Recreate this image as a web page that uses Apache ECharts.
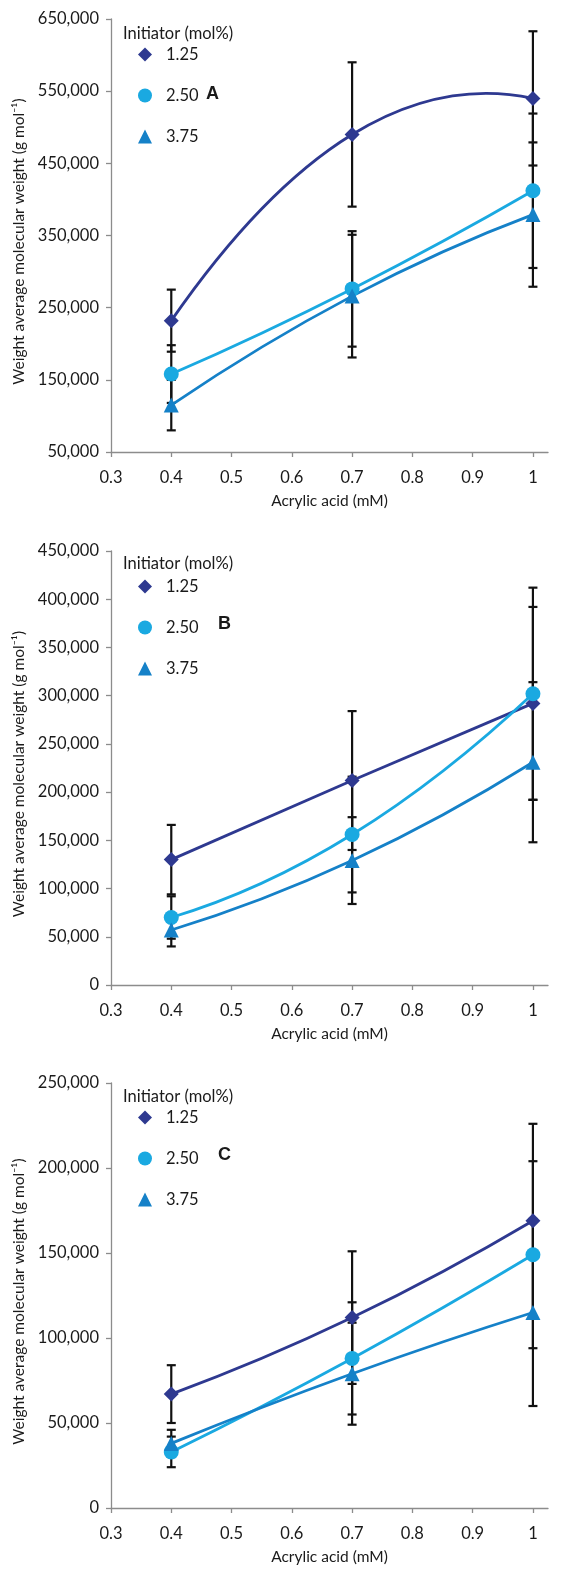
<!DOCTYPE html>
<html>
<head>
<meta charset="utf-8">
<script src="https://cdn.jsdelivr.net/npm/echarts@6/dist/echarts.min.js"></script>
<style>
html,body{margin:0;padding:0;background:#fff;}
#chart{width:563px;height:1573px;}
</style>
</head>
<body>
<div id="chart"></div>
<script>
// ---- data ----
const acrylic = [0.4, 0.7, 1.0];
const seriesNames = ['1.25', '2.50', '3.75'];
const panelLetters = ['A', 'B', 'C'];

const A_125 = [232000, 490000, 540000];
const A_250 = [158000, 276000, 412000];
const A_375 = [115000, 266000, 379000];
const A_err125 = [43000, 100000, 93000];
const A_err250 = [40000, 80000, 107000];
const A_err375 = [35000, 85000, 100000];

const B_125 = [130000, 212000, 292000];
const B_250 = [70000, 156000, 302000];
const B_375 = [57000, 129000, 231000];
const B_err125 = [36000, 72000, 100000];
const B_err250 = [22000, 60000, 110000];
const B_err375 = [17000, 45000, 83000];

const C_125 = [67000, 112000, 169000];
const C_250 = [33000, 88000, 149000];
const C_375 = [38000, 79000, 115000];
const C_err125 = [17000, 39000, 57000];
const C_err250 = [9000, 33000, 55000];
const C_err375 = [8000, 30000, 55000];

const xTicks = [0.3, 0.4, 0.5, 0.6, 0.7, 0.8, 0.9, 1.0];
const yTicksA = [50000, 150000, 250000, 350000, 450000, 550000, 650000];
const yTicksB = [0, 50000, 100000, 150000, 200000, 250000, 300000, 350000, 400000, 450000];
const yTicksC = [0, 50000, 100000, 150000, 200000, 250000];

// ---- styling ----
const colors = ['#2E3990', '#1AA9E1', '#1581C8'];
const symbols = ['diamond', 'circle', 'triangle'];
const FONT = 'Lato, "Open Sans", sans-serif';
const TXT = '#1a1a1a';

const panels = [
  {vals: [A_125, A_250, A_375], errs: [A_err125, A_err250, A_err375], ticks: yTicksA,
   top: 19, height: 433, legendTop: 41, titleTop: 25, letterTop: 85, letterLeft: 206},
  {vals: [B_125, B_250, B_375], errs: [B_err125, B_err250, B_err375], ticks: yTicksB,
   top: 551, height: 434, legendTop: 573, titleTop: 555, letterTop: 615, letterLeft: 218},
  {vals: [C_125, C_250, C_375], errs: [C_err125, C_err250, C_err375], ticks: yTicksC,
   top: 1083, height: 425, legendTop: 1104, titleTop: 1088, letterTop: 1146, letterLeft: 218}
];

const fmt = v => Math.round(v).toLocaleString('en-US');

// Smoothed (spreadsheet-style) curve through pixel points obtained via api.coord
function smoothSegments(pts) {
  const n = pts.length, T = [];
  for (let i = 1; i < n - 1; i++) T[i] = [(pts[i + 1][0] - pts[i - 1][0]) / 2, (pts[i + 1][1] - pts[i - 1][1]) / 2];
  if (n === 2) { T[0] = [pts[1][0] - pts[0][0], pts[1][1] - pts[0][1]]; T[1] = T[0]; }
  else {
    T[0] = [2 * (pts[1][0] - pts[0][0]) - T[1][0], 2 * (pts[1][1] - pts[0][1]) - T[1][1]];
    T[n - 1] = [2 * (pts[n - 1][0] - pts[n - 2][0]) - T[n - 2][0], 2 * (pts[n - 1][1] - pts[n - 2][1]) - T[n - 2][1]];
  }
  const segs = [];
  for (let i = 0; i < n - 1; i++) {
    segs.push({x1: pts[i][0], y1: pts[i][1], x2: pts[i + 1][0], y2: pts[i + 1][1],
      cpx1: pts[i][0] + T[i][0] / 3, cpy1: pts[i][1] + T[i][1] / 3,
      cpx2: pts[i + 1][0] - T[i + 1][0] / 3, cpy2: pts[i + 1][1] - T[i + 1][1] / 3});
  }
  return segs;
}

const grid = [], xAxis = [], yAxis = [], series = [], legend = [], title = [];

panels.forEach((p, gi) => {
  grid.push({left: 111, width: 437, top: p.top, height: p.height});
  xAxis.push({
    type: 'value', gridIndex: gi, min: 0.3, max: 1.025,
    name: 'Acrylic acid (mM)', nameLocation: 'middle', nameGap: 41,
    nameTextStyle: {fontFamily: FONT, fontSize: 15.5, color: TXT},
    axisLine: {show: true, lineStyle: {color: '#8c8c8c', width: 1.3}},
    axisTick: {show: true, length: 5, lineStyle: {color: '#8c8c8c', width: 1.3}, customValues: xTicks},
    axisLabel: {fontFamily: FONT, fontSize: 16.5, color: TXT, margin: 17, customValues: xTicks,
      formatter: v => String(Math.round(v * 10) / 10)},
    splitLine: {show: false}
  });
  yAxis.push({
    type: 'value', gridIndex: gi, min: p.ticks[0], max: p.ticks[p.ticks.length - 1],
    name: 'Weight average molecular weight (g mol⁻¹)', nameLocation: 'middle', nameGap: 82,
    nameTextStyle: {fontFamily: FONT, fontSize: 15.5, color: TXT, padding: [0, 12, 0, 0]},
    axisLine: {show: true, lineStyle: {color: '#8c8c8c', width: 1.3}},
    axisTick: {show: true, length: 5, lineStyle: {color: '#8c8c8c', width: 1.3}, customValues: p.ticks},
    axisLabel: {fontFamily: FONT, fontSize: 16.5, color: TXT, margin: 12, customValues: p.ticks, formatter: fmt},
    splitLine: {show: false}
  });

  // error bars (drawn beneath)
  p.vals.forEach((vals, si) => {
    const errData = acrylic.map((x, i) => [x, vals[i] - p.errs[si][i], vals[i] + p.errs[si][i]]);
    series.push({
      type: 'custom', xAxisIndex: gi, yAxisIndex: gi, z: 1, silent: true,
      data: errData,
      renderItem: (params, api) => {
        const lo = api.coord([api.value(0), api.value(1)]);
        const hi = api.coord([api.value(0), api.value(2)]);
        const hw = 4.5;
        const st = {stroke: '#111', lineWidth: 2.2};
        return {type: 'group', children: [
          {type: 'line', shape: {x1: lo[0], y1: lo[1], x2: hi[0], y2: hi[1]}, style: st},
          {type: 'line', shape: {x1: lo[0] - hw, y1: lo[1], x2: lo[0] + hw, y2: lo[1]}, style: st},
          {type: 'line', shape: {x1: hi[0] - hw, y1: hi[1], x2: hi[0] + hw, y2: hi[1]}, style: st}
        ]};
      }
    });
  });

  // smoothed connecting curves
  p.vals.forEach((vals, si) => {
    const pairs = acrylic.map((x, i) => [x, vals[i]]);
    series.push({
      type: 'custom', xAxisIndex: gi, yAxisIndex: gi, z: 2, silent: true,
      data: pairs,
      renderItem: (params, api) => {
        if (params.dataIndex !== 0) return null;
        const pts = pairs.map(d => api.coord(d));
        const segs = smoothSegments(pts);
        return {type: 'group', children: segs.map(s => ({
          type: 'bezierCurve', shape: s,
          style: {stroke: colors[si], lineWidth: 2.8, fill: null}
        }))};
      }
    });
  });

  // markers
  p.vals.forEach((vals, si) => {
    series.push({
      type: 'scatter', name: seriesNames[si], xAxisIndex: gi, yAxisIndex: gi, z: 3,
      data: acrylic.map((x, i) => [x, vals[i]]),
      symbol: symbols[si], symbolSize: 15,
      itemStyle: {color: colors[si], opacity: 1},
      emphasis: {disabled: true}
    });
  });

  legend.push({
    orient: 'vertical', left: 133, top: p.legendTop, itemGap: 24,
    itemWidth: 14, itemHeight: 14,
    textStyle: {fontFamily: FONT, fontSize: 16.5, color: TXT, padding: [0, 0, 0, 9]},
    data: seriesNames.map((n, i) => ({name: n, icon: symbols[i], itemStyle: {color: colors[i]}}))
  });
  title.push({text: 'Initiator (mol%)', left: 123, top: p.titleTop,
    textStyle: {fontFamily: FONT, fontSize: 16.5, fontWeight: 'normal', color: TXT}, padding: 0});
  title.push({text: panelLetters[gi], left: p.letterLeft, top: p.letterTop,
    textStyle: {fontFamily: 'Liberation Sans, Arial, sans-serif', fontSize: 18, fontWeight: 'bold', color: TXT}, padding: 0});
});

const chart = echarts.init(document.getElementById('chart'), null, {renderer: 'canvas'});
chart.setOption({animation: false, backgroundColor: '#fff', grid, xAxis, yAxis, series, legend, title});
</script>
</body>
</html>
